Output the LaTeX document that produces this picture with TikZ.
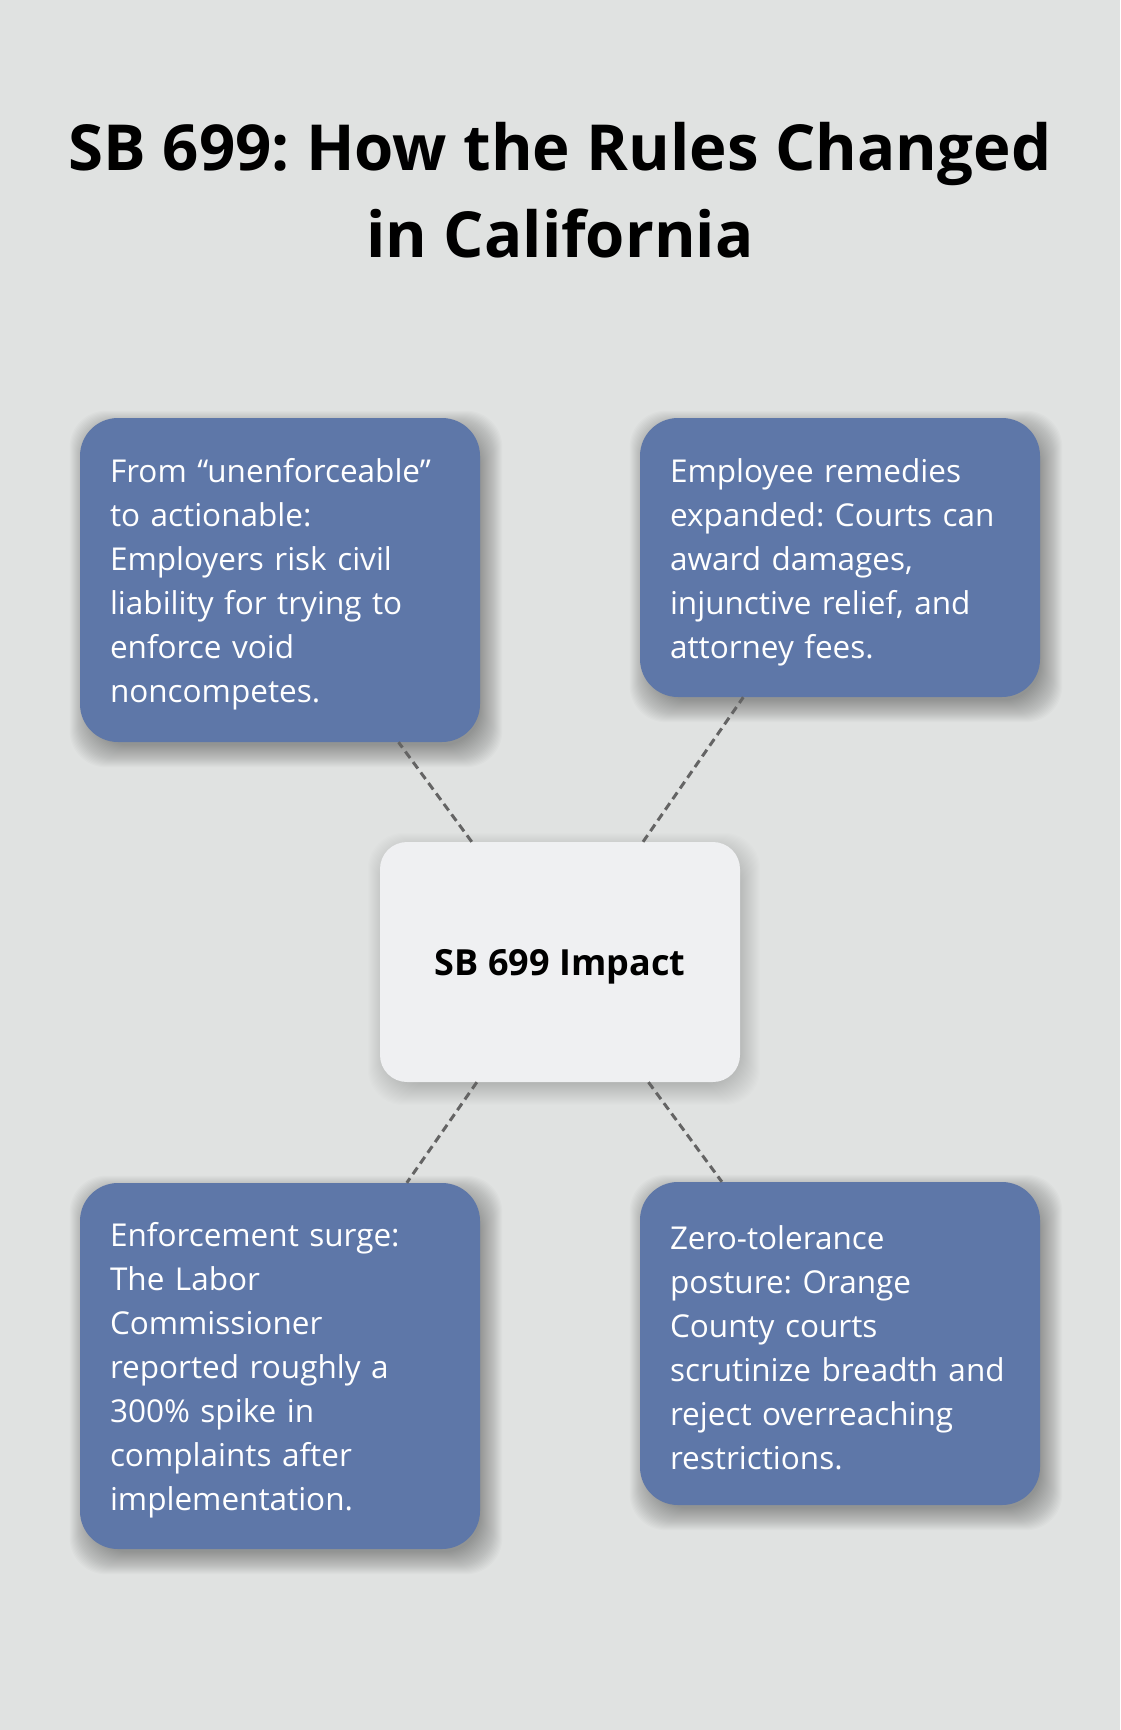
\documentclass[tikz,border=0pt]{standalone}
\usepackage{fontspec}
\setmainfont{Open Sans}
\usepackage{tikz}
\usetikzlibrary{backgrounds}
\definecolor{mybg}{RGB}{224,226,225}
\definecolor{myblue}{RGB}{94,119,168}
\definecolor{mylight}{RGB}{239,240,242}
\definecolor{mydash}{RGB}{100,100,100}
\frenchspacing

\begin{document}
\begin{tikzpicture}[x=1pt, y=1pt,
  factbox/.style={minimum width=400pt, rounded corners=38pt, fill=myblue, text=white,
    text width=340pt, align=left, inner sep=0pt,
    execute at begin node={\rule{0pt}{33pt}},
    font=\fontsize{31.5}{44}\selectfont},
  hubbox/.style={minimum width=360pt, minimum height=240pt, rounded corners=27pt, fill=mylight,
    text depth=0pt, font=\fontsize{36}{40}\selectfont\bfseries},
  softshade/.style={fill=black, opacity=#1, rounded corners=36pt},
  link/.style={draw=mydash, line width=3pt, dash pattern=on 8pt off 5pt}]

  \useasboundingbox (0,0) rectangle (1120,-1730);

  % Title
  \node (title) at (560,-190) [align=center, font=\fontsize{63.5}{87}\selectfont\bfseries] {SB 699: How the Rules Changed\\in California};

  % Hub
  \node (impact) at (560,-962) [hubbox] {SB 699 Impact};

  % Top left
  \node (unenforce) at (280,-580) [factbox, minimum height=324pt] {From “unenforceable”\\to actionable:\\Employers risk civil\\liability for trying to\\enforce void\\noncompetes.};

  % Top right
  \node (remedies) at (840,-557.5) [factbox, minimum height=279pt] {Employee remedies\\expanded: Courts can\\award damages,\\injunctive relief, and\\attorney fees.};

  % Bottom left
  \node (surge) at (280,-1366) [factbox, minimum height=366pt] {Enforcement surge:\\The Labor\\Commissioner\\reported roughly a\\300\% spike in\\complaints after\\implementation.};

  % Bottom right
  \node (posture) at (840,-1343.5) [factbox, minimum height=323pt] {Zero-tolerance\\posture: Orange\\County courts\\scrutinize breadth and\\reject overreaching\\restrictions.};

  % Hub-to-box links
  \draw[link] (impact) -- (unenforce);
  \draw[link] (impact) -- (remedies);
  \draw[link] (impact) -- (surge);
  \draw[link] (impact) -- (posture);

  % Background and soft shadows
  \begin{scope}[on background layer]
    \fill[mybg] (0,0) rectangle (1120,-1730);
    \foreach \n in {unenforce,remedies,surge,posture}
      \foreach \k in {-6,...,16}
        \fill[softshade=0.014] ([shift={(6-\k,-9+\k)}]\n.north west) rectangle ([shift={(6+\k,-9-\k)}]\n.south east);
    \foreach \k in {-6,...,16}
      \fill[softshade=0.008] ([shift={(4-\k,-7+\k)}]impact.north west) rectangle ([shift={(4+\k,-7-\k)}]impact.south east);
  \end{scope}

\end{tikzpicture}
\end{document}
